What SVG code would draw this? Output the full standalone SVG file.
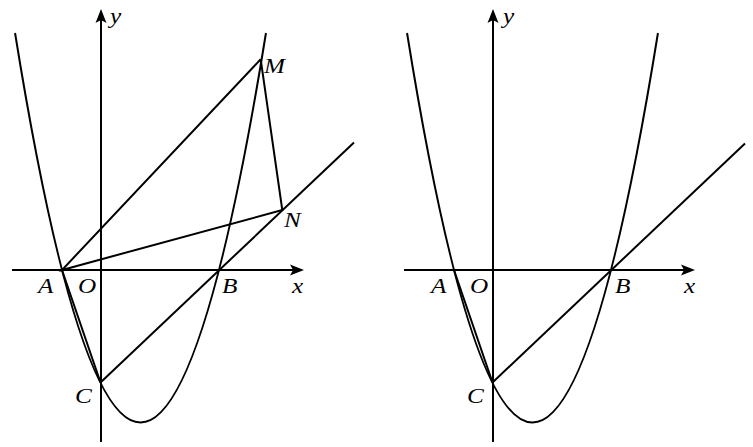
<svg xmlns="http://www.w3.org/2000/svg" width="753" height="447" viewBox="0 0 753 447">
<style>
.ln{fill:none;stroke:#000;stroke-width:2}
.lb{font-family:"Liberation Serif","Times New Roman",serif;font-style:italic;font-size:21px;fill:#000}
</style>
<defs>
<marker id="arr" markerUnits="userSpaceOnUse" markerWidth="16" markerHeight="14" viewBox="0 -7 16 14" refX="3" refY="0" orient="auto">
<path d="M0,-5.5 L14,0 L0,5.5 L3,0 Z" fill="#000"/>
</marker>
</defs>
<rect width="753" height="447" fill="#fff"/>
<g id="left">
<g id="left-axes">
<line class="ln" x1="12" y1="270" x2="293" y2="270" marker-end="url(#arr)"/>
<line class="ln" x1="101" y1="442" x2="101" y2="20" marker-end="url(#arr)"/>
</g>
<g id="left-curves">
<path class="ln" d="M15.05,33 Q140.5,812 265.95,33"/>
<line class="ln" x1="62" y1="270" x2="100.5" y2="382.5"/>
<line class="ln" x1="100.5" y1="382.5" x2="354" y2="142.5"/>
<polyline class="ln" points="260.7,59.3 62,270 282.3,210 260.7,59.3"/>
</g>
<g id="left-labels">
<text class="lb" transform="translate(110,23) scale(1.2,1)">y</text>
<text class="lb" transform="translate(292,293) scale(1.2,1)">x</text>
<text class="lb" transform="translate(38,293) scale(1.2,1)">A</text>
<text class="lb" transform="translate(78,293) scale(1.2,1)">O</text>
<text class="lb" transform="translate(222,293) scale(1.2,1)">B</text>
<text class="lb" transform="translate(75,403) scale(1.2,1)">C</text>
<text class="lb" transform="translate(264,73) scale(1.2,1)">M</text>
<text class="lb" transform="translate(284,227) scale(1.2,1)">N</text>
</g>
</g>
<g id="right" transform="translate(392,0)">
<g id="right-axes">
<line class="ln" x1="12" y1="270" x2="292" y2="270" marker-end="url(#arr)"/>
<line class="ln" x1="101" y1="442" x2="101" y2="20" marker-end="url(#arr)"/>
</g>
<g id="right-curves">
<path class="ln" d="M15.05,33 Q140.5,812 265.95,33"/>
<line class="ln" x1="62" y1="270" x2="100.5" y2="382.5"/>
<line class="ln" x1="100.5" y1="382.5" x2="353" y2="143.5"/>
</g>
<g id="right-labels">
<text class="lb" transform="translate(111,23) scale(1.2,1)">y</text>
<text class="lb" transform="translate(292,293) scale(1.2,1)">x</text>
<text class="lb" transform="translate(39,293) scale(1.2,1)">A</text>
<text class="lb" transform="translate(78,293) scale(1.2,1)">O</text>
<text class="lb" transform="translate(223,293) scale(1.2,1)">B</text>
<text class="lb" transform="translate(75,403) scale(1.2,1)">C</text>
</g>
</g>
</svg>
